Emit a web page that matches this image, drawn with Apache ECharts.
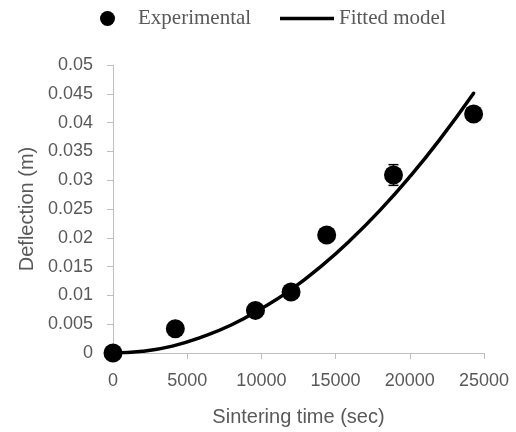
<!DOCTYPE html>
<html>
<head>
<meta charset="utf-8">
<script src="https://cdn.jsdelivr.net/npm/echarts@6/dist/echarts.min.js"></script>
<style>
  html, body { margin: 0; padding: 0; background: #fff; }
  #chart { width: 516px; height: 432px; }
</style>
</head>
<body>
<div id="chart"></div>
<script>
// measured points
var expTime = [0, 4200, 9600, 12000, 14400, 18900, 24300];
var expDefl = [0, 0.0042, 0.0074, 0.0106, 0.0205, 0.0309, 0.0415];
var expErr = [0, 0, 0, 0, 0, 0.0018, 0];

// fitted curve
var fitTime = [0, 2000, 4000, 6000, 8000, 10000, 12000, 14000, 16000, 18000, 20000, 22000, 24300];
var fitDefl = [0, 0.0003, 0.0012, 0.0028, 0.0049, 0.0077, 0.011, 0.015, 0.0196, 0.0248, 0.0306, 0.037, 0.0451];

var grey = '#595959';
var axisGrey = '#bfbfbf';

var myChart = echarts.init(document.getElementById('chart'));

var expData = expTime.map(function (t, i) { return [t, expDefl[i]]; });
var fitData = fitTime.map(function (t, i) { return [t, fitDefl[i]]; });
var errData = expTime.map(function (t, i) { return [t, expDefl[i] - expErr[i], expDefl[i] + expErr[i]]; });

var legendText = { fontFamily: 'Liberation Serif', fontSize: 21, color: grey };

var option = {
  animation: false,
  legend: [
    {
      left: 95,
      top: 3,
      itemWidth: 15,
      itemHeight: 15,
      textStyle: Object.assign({ padding: [0, 0, 0, 18] }, legendText),
      data: [{ name: 'Experimental', icon: 'circle' }]
    },
    {
      left: 275,
      top: 3,
      itemWidth: 54,
      itemHeight: 3.5,
      textStyle: legendText,
      data: [{ name: 'Fitted model', icon: 'rect' }]
    }
  ],
  grid: { left: 113, right: 32, top: 65, bottom: 77 },
  xAxis: {
    type: 'value',
    min: 0,
    max: 25000,
    interval: 5000,
    name: 'Sintering time (sec)',
    nameLocation: 'middle',
    nameGap: 54,
    nameTextStyle: { fontFamily: 'Liberation Sans', fontSize: 20, color: grey },
    axisLine: { show: true, lineStyle: { color: axisGrey, width: 1 } },
    axisTick: { show: true, length: 6, lineStyle: { color: axisGrey } },
    axisLabel: {
      fontFamily: 'Liberation Sans', fontSize: 18, color: grey, margin: 19,
      formatter: function (v) { return String(v); }
    },
    splitLine: { show: false }
  },
  yAxis: {
    type: 'value',
    min: 0,
    max: 0.05,
    interval: 0.005,
    name: 'Deflection (m)',
    nameLocation: 'middle',
    nameGap: 76,
    nameTextStyle: { fontFamily: 'Liberation Sans', fontSize: 20, color: grey },
    axisLine: { show: true, lineStyle: { color: axisGrey, width: 1 } },
    axisTick: { show: true, length: 6, lineStyle: { color: axisGrey } },
    axisLabel: { fontFamily: 'Liberation Sans', fontSize: 18, color: grey, margin: 20 },
    splitLine: { show: false }
  },
  series: [
    {
      name: 'Fitted model',
      type: 'line',
      data: fitData,
      smooth: true,
      symbol: 'none',
      lineStyle: { color: '#000', width: 3.5, cap: 'round' },
      itemStyle: { color: '#000' },
      z: 3
    },
    {
      name: 'errbar',
      type: 'custom',
      data: errData,
      renderItem: function (params, api) {
        var x = api.value(0);
        var lo = api.coord([x, api.value(1)]);
        var hi = api.coord([x, api.value(2)]);
        var hw = 5;
        var st = { stroke: '#000', lineWidth: 1.5 };
        return {
          type: 'group',
          children: [
            { type: 'line', shape: { x1: lo[0], y1: lo[1], x2: hi[0], y2: hi[1] }, style: st },
            { type: 'line', shape: { x1: hi[0] - hw, y1: hi[1], x2: hi[0] + hw, y2: hi[1] }, style: st },
            { type: 'line', shape: { x1: lo[0] - hw, y1: lo[1], x2: lo[0] + hw, y2: lo[1] }, style: st }
          ]
        };
      },
      z: 4
    },
    {
      name: 'Experimental',
      type: 'scatter',
      data: expData,
      symbol: 'circle',
      symbolSize: 19,
      itemStyle: { color: '#000', opacity: 1 },
      z: 5
    }
  ]
};

myChart.setOption(option);
</script>
</body>
</html>
